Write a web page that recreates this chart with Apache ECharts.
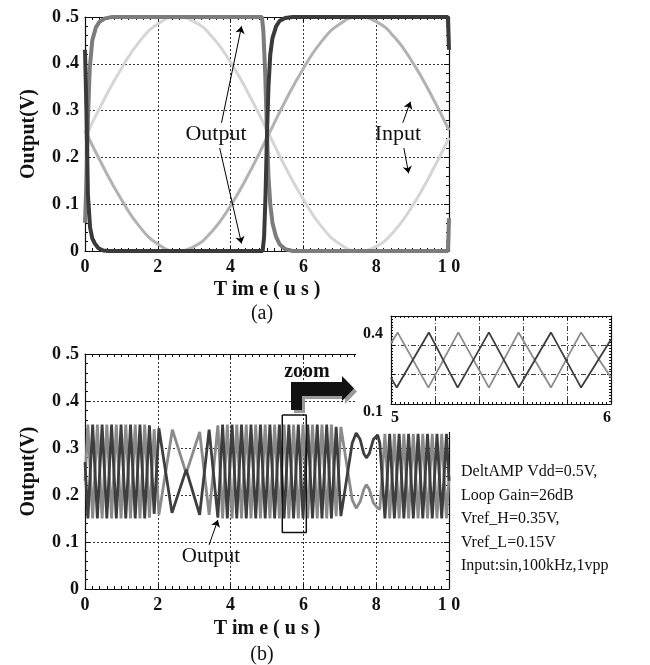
<!DOCTYPE html>
<html>
<head>
<meta charset="utf-8">
<script src="https://cdn.jsdelivr.net/npm/echarts@6/dist/echarts.min.js"></script>
<style>
  html, body { margin: 0; padding: 0; background: #fff; }
  #chart { width: 650px; height: 665px; }
</style>
</head>
<body>
<div id="chart"></div>
<script>
const FONT = '"Liberation Serif", "Times New Roman", serif';

// ---- tick labels ----
const xTickText = ['0', '2', '4', '6', '8', '1 0'];
const yTickText = ['0', '0 .1', '0 .2', '0 .3', '0 .4', '0 .5'];
const zoomXText = { 5: '5', 6: '6' };
const zoomYText = { 1: '0.1', 4: '{low|0.4}' };

// ---- panel (a): sine inputs and comparator outputs, [time us, volts] ----
const inputRiseA = [[0,0.242],[0.5,0.320],[1,0.390],[1.5,0.448],[2,0.485],[2.5,0.500],[3,0.490],[3.5,0.457],[4,0.403],[4.5,0.335],[5,0.258],[5.5,0.180],[6,0.110],[6.5,0.052],[7,0.015],[7.5,0.000],[8,0.010],[8.5,0.043],[9,0.097],[9.5,0.165],[10,0.242]];
const inputFallA = [[0,0.258],[0.5,0.180],[1,0.110],[1.5,0.052],[2,0.015],[2.5,0.000],[3,0.010],[3.5,0.043],[4,0.097],[4.5,0.165],[5,0.242],[5.5,0.320],[6,0.390],[6.5,0.448],[7,0.485],[7.5,0.500],[8,0.490],[8.5,0.457],[9,0.403],[9.5,0.335],[10,0.258]];
const outputDarkA = [[0,0.43],[0.04,0.30],[0.08,0.12],[0.14,0.05],[0.2,0.027],[0.27,0.016],[0.37,0.006],[0.5,0.001],[0.65,0],[4.88,0],[4.92,0.03],[4.96,0.12],[5.0,0.25],[5.04,0.35],[5.09,0.42],[5.15,0.455],[5.25,0.48],[5.35,0.492],[5.5,0.498],[5.7,0.5],[9.97,0.5],[10,0.43]];
const outputGrayA = [[0,0.06],[0.04,0.15],[0.08,0.28],[0.13,0.39],[0.2,0.45],[0.3,0.478],[0.4,0.49],[0.55,0.497],[0.75,0.5],[4.86,0.5],[4.9,0.47],[4.95,0.38],[5.0,0.25],[5.04,0.16],[5.09,0.10],[5.15,0.06],[5.25,0.03],[5.35,0.014],[5.5,0.004],[5.7,0],[9.97,0],[10,0.07]];

// ---- panel (b): DeltAMP outputs ----
const outputDarkB = [[0,0.27],[0.08,0.15],[0.21,0.35],[0.34,0.15],[0.47,0.35],[0.60,0.15],[0.73,0.35],[0.86,0.15],[0.99,0.35],[1.12,0.15],[1.25,0.35],[1.38,0.15],[1.51,0.35],[1.64,0.15],[1.77,0.348],[1.90,0.16],[2.03,0.342],
  [2.39,0.162],[2.78,0.254],[3.15,0.158],[3.41,0.339],[3.65,0.152],
  [3.78,0.35],[3.91,0.15],[4.04,0.35],[4.17,0.15],[4.30,0.35],[4.43,0.15],[4.56,0.35],[4.69,0.15],[4.82,0.35],[4.95,0.15],[5.08,0.35],[5.21,0.15],[5.34,0.35],[5.47,0.15],[5.60,0.35],[5.73,0.15],[5.86,0.35],[5.99,0.15],[6.12,0.35],[6.25,0.15],[6.38,0.35],[6.51,0.15],[6.64,0.35],[6.77,0.15],[6.90,0.345],[7.03,0.155],
  [7.22,0.25],[7.34,0.31],[7.45,0.332],[7.56,0.318],[7.66,0.288],[7.73,0.279],[7.81,0.288],[7.92,0.318],[8.04,0.328],[8.10,0.31],[8.24,0.15],
  [8.37,0.33],[8.50,0.15],[8.63,0.33],[8.76,0.15],[8.89,0.33],[9.02,0.15],[9.15,0.33],[9.28,0.15],[9.41,0.33],[9.54,0.15],[9.67,0.33],[9.80,0.15],[9.93,0.33],[10,0.23]];
const outputGrayB = [[0,0.23],[0.08,0.35],[0.21,0.15],[0.34,0.35],[0.47,0.15],[0.60,0.35],[0.73,0.15],[0.86,0.35],[0.99,0.15],[1.12,0.35],[1.25,0.15],[1.38,0.35],[1.51,0.15],[1.64,0.35],[1.77,0.152],[1.90,0.34],[2.03,0.158],
  [2.40,0.339],[2.78,0.246],[3.15,0.334],[3.41,0.158],[3.65,0.348],
  [3.78,0.15],[3.91,0.35],[4.04,0.15],[4.17,0.35],[4.30,0.15],[4.43,0.35],[4.56,0.15],[4.69,0.35],[4.82,0.15],[4.95,0.35],[5.08,0.15],[5.21,0.35],[5.34,0.15],[5.47,0.35],[5.60,0.15],[5.73,0.35],[5.86,0.15],[5.99,0.35],[6.12,0.15],[6.25,0.35],[6.38,0.15],[6.51,0.35],[6.64,0.15],[6.77,0.35],[6.90,0.155],[7.03,0.345],
  [7.22,0.25],[7.34,0.19],[7.45,0.172],[7.56,0.186],[7.66,0.212],[7.73,0.222],[7.81,0.212],[7.92,0.184],[8.04,0.172],[8.10,0.17],[8.24,0.33],
  [8.37,0.15],[8.50,0.33],[8.63,0.15],[8.76,0.33],[8.89,0.15],[9.02,0.33],[9.15,0.15],[9.28,0.33],[9.41,0.15],[9.54,0.33],[9.67,0.15],[9.80,0.33],[9.93,0.15],[10,0.24]];
const zoomWindow = [[5.42,0.37],[6.08,0.37],[6.08,0.12],[5.42,0.12],[5.42,0.37]];

// ---- zoomed 5-6 us window ----
const zoomDark = [[5.0,0.19],[5.026,0.156],[5.172,0.344],[5.303,0.156],[5.445,0.344],[5.581,0.156],[5.727,0.344],[5.864,0.156],[6.0,0.32]];
const zoomGray = [[5.0,0.307],[5.03,0.344],[5.17,0.156],[5.306,0.344],[5.445,0.156],[5.58,0.344],[5.727,0.156],[5.864,0.344],[6.0,0.19]];

// ---- annotation arrows (data coordinates) ----
const arrowsA = [
  [[3.75,0.274],[4.30,0.48]],
  [[3.70,0.22],[4.30,0.016]],
  [[8.73,0.274],[8.94,0.319]],
  [[8.76,0.22],[8.89,0.166]]
];
const arrowsB = [[[3.41,0.094],[3.65,0.147]]];

const INK = '#111';
const tickLabel = { fontFamily: FONT, fontWeight: 'bold', fontSize: 18, color: '#111' };

function xAxisDef(grid, pos, min, max, interval, minorSplit, extra) {
  const bottom = pos === 'bottom';
  return Object.assign({
    type: 'value', gridIndex: grid, position: pos, min, max, interval,
    axisLine: { show: true, onZero: false, lineStyle: { color: INK, width: 1.2 } },
    axisTick: { show: true, inside: true, length: 5, lineStyle: { color: INK } },
    minorTick: { show: true, splitNumber: minorSplit, length: 3, lineStyle: { color: INK } },
    splitLine: { show: bottom, lineStyle: { color: '#333', type: [2, 2], width: 1 } },
    axisLabel: Object.assign({ show: bottom, margin: 7, formatter: v => xTickText[Math.round(v / 2)] }, tickLabel)
  }, extra || {});
}
function yAxisDef(grid, pos, min, max, interval, minorSplit, extra) {
  const left = pos === 'left';
  return Object.assign({
    type: 'value', gridIndex: grid, position: pos, min, max, interval,
    axisLine: { show: true, onZero: false, lineStyle: { color: INK, width: 1.2 } },
    axisTick: { show: true, inside: true, length: 5, lineStyle: { color: INK } },
    minorTick: { show: true, splitNumber: minorSplit, length: 3, lineStyle: { color: INK } },
    splitLine: { show: left, lineStyle: { color: '#333', type: [2, 2], width: 1 } },
    axisLabel: Object.assign({ show: left, margin: 6, formatter: v => yTickText[Math.round(v * 10)] }, tickLabel)
  }, extra || {});
}

const axisName = { fontFamily: FONT, fontWeight: 'bold', fontSize: 20, color: '#111' };
const xName = { name: 'T im e ( u s )', nameLocation: 'middle', nameGap: 29, nameTextStyle: axisName };
const yName = { name: 'Output(V)', nameLocation: 'middle', nameGap: 46, nameTextStyle: axisName };

const zoomLabel = { fontFamily: FONT, fontWeight: 'bold', fontSize: 16, color: '#111' };

const option = {
  animation: false,
  backgroundColor: '#fff',
  grid: [
    { left: 85, top: 17, width: 364, height: 234 },
    { left: 85, top: 354, width: 364, height: 235 },
    { left: 391, top: 316, width: 220, height: 88, z: 60 }
  ],
  xAxis: [
    xAxisDef(0, 'bottom', 0, 10, 2, 10, xName),
    xAxisDef(0, 'top', 0, 10, 2, 10),
    xAxisDef(1, 'bottom', 0, 10, 2, 10, Object.assign({}, xName, { nameGap: 30 })),
    xAxisDef(1, 'top', 0, 10, 2, 10),
    {
      type: 'value', gridIndex: 2, position: 'bottom', min: 5, max: 6, interval: 0.2, z: 60,
      axisLine: { show: true, onZero: false, lineStyle: { color: INK, width: 1.2 } },
      axisTick: { show: true, inside: true, length: 4, lineStyle: { color: INK } },
      minorTick: { show: true, splitNumber: 10, length: 2, lineStyle: { color: INK } },
      splitLine: { show: true, lineStyle: { color: '#444', type: [5, 2, 1, 2], width: 1 } },
      axisLabel: Object.assign({ margin: 6, alignMinLabel: 'left', alignMaxLabel: 'right',
        formatter: v => zoomXText[Math.round(v * 10) / 10] || '' }, zoomLabel)
    },
    {
      type: 'value', gridIndex: 2, position: 'top', min: 5, max: 6, interval: 0.2, z: 60,
      axisLine: { show: true, onZero: false, lineStyle: { color: INK, width: 1.2 } },
      axisTick: { show: true, inside: true, length: 4, lineStyle: { color: INK } },
      minorTick: { show: true, splitNumber: 10, length: 2, lineStyle: { color: INK } },
      splitLine: { show: false }, axisLabel: { show: false }
    }
  ],
  yAxis: [
    yAxisDef(0, 'left', 0, 0.5, 0.1, 5, yName),
    yAxisDef(0, 'right', 0, 0.5, 0.1, 5),
    yAxisDef(1, 'left', 0, 0.5, 0.1, 5, yName),
    yAxisDef(1, 'right', 0, 0.5, 0.1, 5),
    {
      type: 'value', gridIndex: 2, position: 'left', min: 0.1, max: 0.4, interval: 0.1, z: 60,
      axisLine: { show: true, onZero: false, lineStyle: { color: INK, width: 1.2 } },
      axisTick: { show: true, inside: true, length: 4, lineStyle: { color: INK } },
      minorTick: { show: true, splitNumber: 10, length: 2, lineStyle: { color: INK } },
      splitLine: { show: true, lineStyle: { color: '#444', type: [5, 2, 1, 2], width: 1 } },
      axisLabel: Object.assign({ margin: 8, verticalAlign: 'top',
        rich: { low: Object.assign({ padding: [10, 0, 0, 0] }, zoomLabel) },
        formatter: v => zoomYText[Math.round(v * 10)] || '' }, zoomLabel)
    },
    {
      type: 'value', gridIndex: 2, position: 'right', min: 0.1, max: 0.4, interval: 0.1, z: 60,
      axisLine: { show: true, onZero: false, lineStyle: { color: INK, width: 1.2 } },
      axisTick: { show: true, inside: true, length: 4, lineStyle: { color: INK } },
      minorTick: { show: true, splitNumber: 10, length: 2, lineStyle: { color: INK } },
      splitLine: { show: false }, axisLabel: { show: false }
    }
  ],
  series: [
    // panel (a)
    { type: 'line', xAxisIndex: 0, yAxisIndex: 0, data: inputRiseA, smooth: true, symbol: 'none',
      lineStyle: { color: '#d6d6d6', width: 3 },
      markLine: {
        silent: true, symbol: ['none', 'arrow'], symbolSize: 7, label: { show: false },
        lineStyle: { color: '#000', width: 1, type: 'solid' },
        data: arrowsA.map(a => [{ coord: a[0] }, { coord: a[1] }])
      } },
    { type: 'line', xAxisIndex: 0, yAxisIndex: 0, data: inputFallA, smooth: true, symbol: 'none',
      lineStyle: { color: '#b2b2b2', width: 3 } },
    { type: 'line', xAxisIndex: 0, yAxisIndex: 0, data: outputGrayA, symbol: 'none',
      lineStyle: { color: '#7c7c7c', width: 4 } },
    { type: 'line', xAxisIndex: 0, yAxisIndex: 0, data: outputDarkA, symbol: 'none',
      lineStyle: { color: '#3a3a3a', width: 4 } },
    // panel (b)
    { type: 'line', xAxisIndex: 2, yAxisIndex: 2, data: outputGrayB, symbol: 'none',
      lineStyle: { color: '#8a8a8a', width: 2.8 } },
    { type: 'line', xAxisIndex: 2, yAxisIndex: 2, data: outputDarkB, symbol: 'none',
      lineStyle: { color: '#3e3e3e', width: 2.8 },
      markLine: {
        silent: true, symbol: ['none', 'arrow'], symbolSize: 7, label: { show: false },
        lineStyle: { color: '#000', width: 1, type: 'solid' },
        data: arrowsB.map(a => [{ coord: a[0] }, { coord: a[1] }])
      } },
    { type: 'line', xAxisIndex: 2, yAxisIndex: 2, data: zoomWindow, symbol: 'none', z: 4,
      lineStyle: { color: '#111', width: 1.5 } },
    // zoomed window
    { type: 'line', xAxisIndex: 4, yAxisIndex: 4, data: zoomGray, symbol: 'none', z: 61,
      lineStyle: { color: '#8c8c8c', width: 1.8 } },
    { type: 'line', xAxisIndex: 4, yAxisIndex: 4, data: zoomDark, symbol: 'none', z: 61,
      lineStyle: { color: '#3e3e3e', width: 1.8 } }
  ],
  graphic: [
    { type: 'rect', z: 50, shape: { x: 356, y: 336, width: 100, height: 96 }, style: { fill: '#fff' } },
    { type: 'polygon', z: 70, shape: { points: [[294,413],[294,385],[345,385],[345,379],[357,391.5],[345,404],[345,399],[305,399],[305,413]] }, style: { fill: '#9a9a9a' } },
    { type: 'polygon', z: 71, shape: { points: [[291,410],[291,382],[342,382],[342,376],[354,388.5],[342,401],[342,396],[302,396],[302,410]] }, style: { fill: '#111' } },
    { type: 'text', z: 72, x: 307, y: 372, style: { text: 'zoom', font: 'bold 20px ' + FONT, fill: '#111', textAlign: 'center', textVerticalAlign: 'middle' } },
    { type: 'text', z: 72, x: 216, y: 134, style: { text: 'Output', font: '22px ' + FONT, fill: '#111', textAlign: 'center', textVerticalAlign: 'middle' } },
    { type: 'text', z: 72, x: 398, y: 134, style: { text: 'Input', font: '22px ' + FONT, fill: '#111', textAlign: 'center', textVerticalAlign: 'middle' } },
    { type: 'text', z: 72, x: 211, y: 556, style: { text: 'Output', font: '21px ' + FONT, fill: '#111', textAlign: 'center', textVerticalAlign: 'middle' } },
    { type: 'text', z: 72, x: 262, y: 314, style: { text: '(a)', font: '20px ' + FONT, fill: '#111', textAlign: 'center', textVerticalAlign: 'middle' } },
    { type: 'text', z: 72, x: 262, y: 655, style: { text: '(b)', font: '20px ' + FONT, fill: '#111', textAlign: 'center', textVerticalAlign: 'middle' } },
    { type: 'text', z: 72, x: 461, y: 472, style: { text: 'DeltAMP Vdd=0.5V,', font: '16px ' + FONT, fill: '#111', textAlign: 'left', textVerticalAlign: 'middle' } },
    { type: 'text', z: 72, x: 461, y: 495.5, style: { text: 'Loop Gain=26dB', font: '16px ' + FONT, fill: '#111', textAlign: 'left', textVerticalAlign: 'middle' } },
    { type: 'text', z: 72, x: 461, y: 519, style: { text: 'Vref_H=0.35V,', font: '16px ' + FONT, fill: '#111', textAlign: 'left', textVerticalAlign: 'middle' } },
    { type: 'text', z: 72, x: 461, y: 542.5, style: { text: 'Vref_L=0.15V', font: '16px ' + FONT, fill: '#111', textAlign: 'left', textVerticalAlign: 'middle' } },
    { type: 'text', z: 72, x: 461, y: 566, style: { text: 'Input:sin,100kHz,1vpp', font: '16px ' + FONT, fill: '#111', textAlign: 'left', textVerticalAlign: 'middle' } }
  ]
};

const chart = echarts.init(document.getElementById('chart'), null, { renderer: 'canvas' });
chart.setOption(option);
</script>
</body>
</html>
